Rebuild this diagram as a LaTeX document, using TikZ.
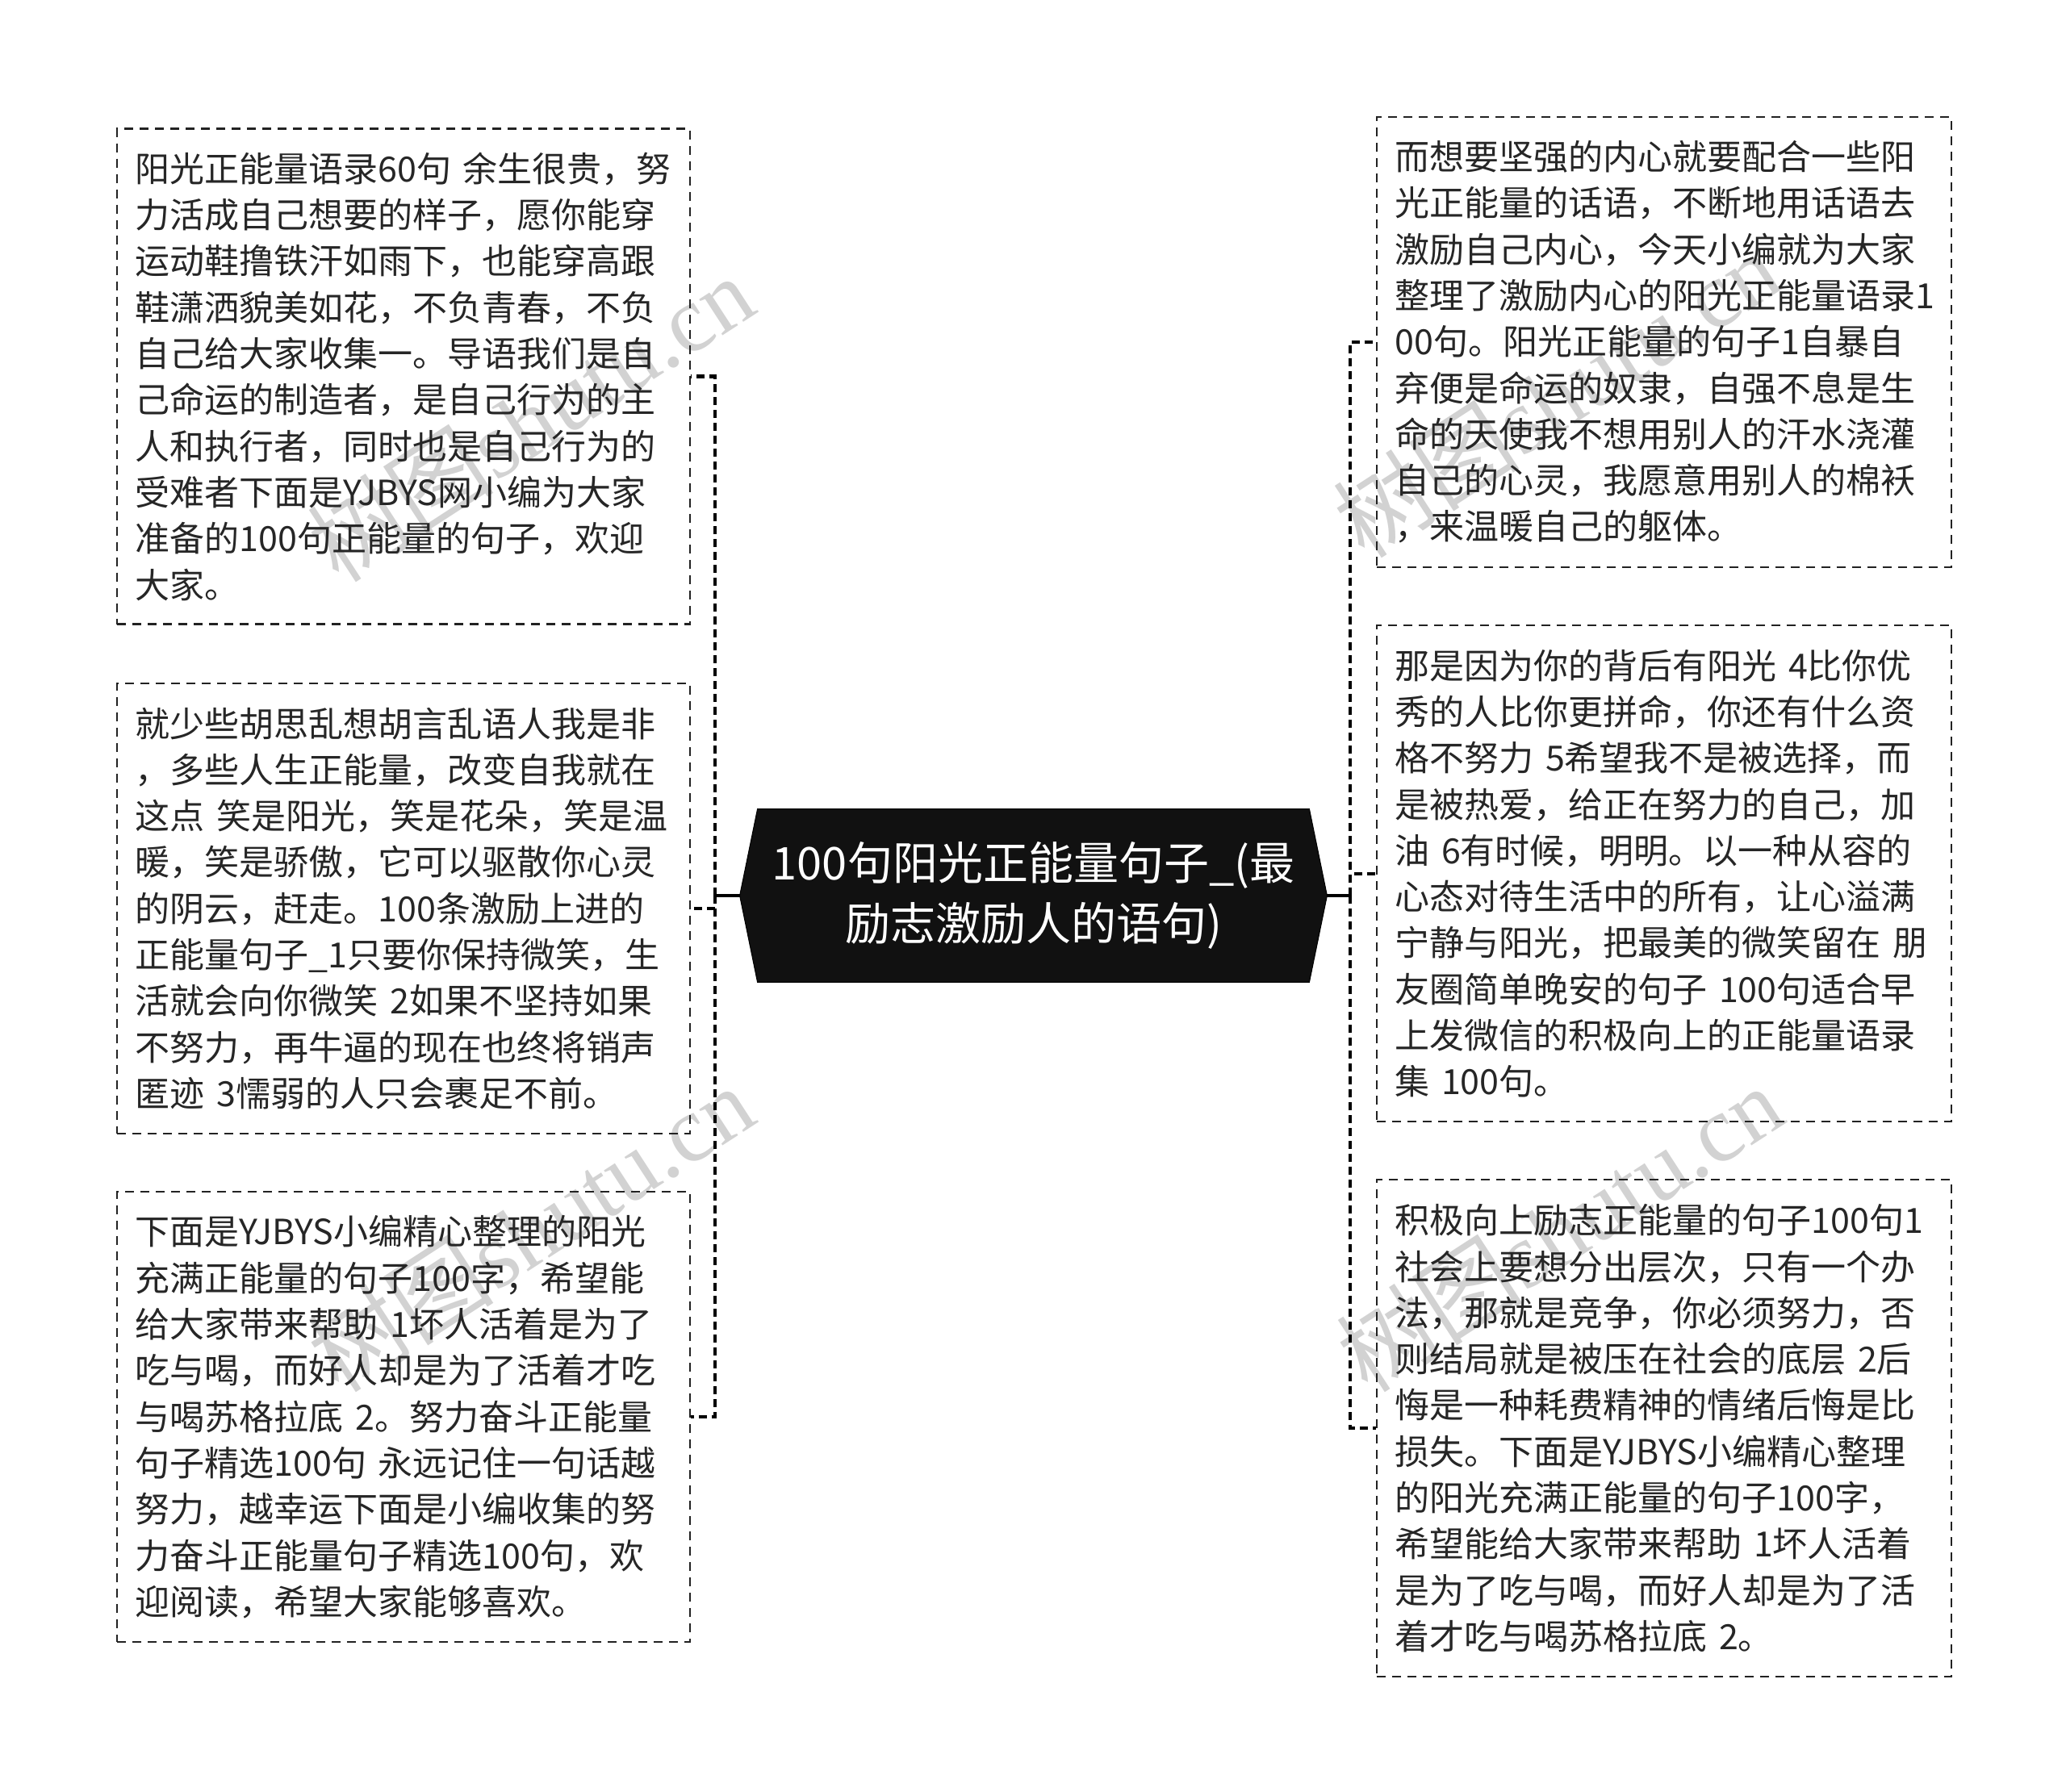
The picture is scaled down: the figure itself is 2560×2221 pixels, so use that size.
\documentclass[tikz,border=0pt]{standalone}
\usepackage{fontspec}
\setmainfont{Noto Sans CJK SC}
\newfontfamily\wmserif{Liberation Serif}
\newfontfamily\wmcjk{Noto Sans CJK SC}
\definecolor{txt}{HTML}{262626}
\definecolor{boxline}{HTML}{222222}
\definecolor{linkc}{HTML}{000000}
\definecolor{rootfill}{HTML}{111111}
\definecolor{wmc}{HTML}{D2D2D2}
\pgfdeclarelayer{bg}
\pgfsetlayers{bg,main}
\tikzset{
  leafbox/.style={draw=boxline, line width=1.2pt, dash pattern=on 5.5pt off 4pt,
    anchor=north west, inner xsep=11.5pt, inner ysep=0pt, align=left, text=txt,
    font=\fontsize{21.5pt}{28.65pt}\selectfont},
  leftbox/.style={leafbox, minimum width=355pt, text width=332pt},
  rightbox/.style={leafbox, minimum width=356pt, text width=333pt},
  rootnode/.style={minimum width=363.5pt, minimum height=107pt, inner sep=0pt,
    align=center, text=white, font=\fontsize{28pt}{37.5pt}\selectfont},
  rootlink/.style={draw=linkc, line width=1.75pt},
  link/.style={draw=linkc, line width=2.2pt, dash pattern=on 5pt off 3pt},
  wm/.style={text=wmc, rotate=33, inner sep=0pt, font=\fontsize{58pt}{58pt}\selectfont}
}
\begin{document}
\begin{tikzpicture}[x=0.5pt,y=-0.5pt]
\useasboundingbox (0,0) rectangle (2560,2221);

% watermarks
\node[wm] (wm1) at (657,518) {{\wmcjk 树图}{\wmserif shutu.cn}};
\node[wm] (wm2) at (1928,488) {{\wmcjk 树图}{\wmserif shutu.cn}};
\node[wm] (wm3) at (657,1522) {{\wmcjk 树图}{\wmserif shutu.cn}};
\node[wm] (wm4) at (1932,1522) {{\wmcjk 树图}{\wmserif shutu.cn}};

% root
\node[rootnode] (root) at (1280.5,1110) {100句阳光正能量句子\_(最\\励志激励人的语句)};
\begin{pgfonlayer}{bg}
\filldraw[fill=rootfill, draw=black, line width=0.5pt]
  (root.west) -- ([xshift=11pt]root.north west) -- ([xshift=-11pt]root.north east)
  -- (root.east) -- ([xshift=-11pt]root.south east) -- ([xshift=11pt]root.south west) -- cycle;
\end{pgfonlayer}

% left boxes
\node[leftbox, minimum height=307pt] (L1) at (143.7,158.4) {阳光正能量语录60句~余生很贵，努\\力活成自己想要的样子，愿你能穿\\运动鞋撸铁汗如雨下，也能穿高跟\\鞋潇洒貌美如花，不负青春，不负\\自己给大家收集一。导语我们是自\\己命运的制造者，是自己行为的主\\人和执行者，同时也是自己行为的\\受难者下面是YJBYS网小编为大家\\准备的100句正能量的句子，欢迎\\大家。};
\node[leftbox, minimum height=279pt] (L2) at (143.7,845.7) {就少些胡思乱想胡言乱语人我是非\\，多些人生正能量，改变自我就在\\这点~笑是阳光，笑是花朵，笑是温\\暖，笑是骄傲，它可以驱散你心灵\\的阴云，赶走。100条激励上进的\\正能量句子\_1只要你保持微笑，生\\活就会向你微笑~2如果不坚持如果\\不努力，再牛逼的现在也终将销声\\匿迹~3懦弱的人只会裹足不前。};
\node[leftbox, minimum height=279pt] (L3) at (143.7,1476) {下面是YJBYS小编精心整理的阳光\\充满正能量的句子100字，希望能\\给大家带来帮助~1坏人活着是为了\\吃与喝，而好人却是为了活着才吃\\与喝苏格拉底~2。努力奋斗正能量\\句子精选100句~永远记住一句话越\\努力，越幸运下面是小编收集的努\\力奋斗正能量句子精选100句，欢\\迎阅读，希望大家能够喜欢。};

% right boxes
\node[rightbox, minimum height=279pt] (R1) at (1704.5,143.7) {而想要坚强的内心就要配合一些阳\\光正能量的话语，不断地用话语去\\激励自己内心，今天小编就为大家\\整理了激励内心的阳光正能量语录1\\00句。阳光正能量的句子1自暴自\\弃便是命运的奴隶，自强不息是生\\命的天使我不想用别人的汗水浇灌\\自己的心灵，我愿意用别人的棉袄\\，来温暖自己的躯体。};
\node[rightbox, minimum height=307.5pt] (R2) at (1704.5,774) {那是因为你的背后有阳光~4比你优\\秀的人比你更拼命，你还有什么资\\格不努力~5希望我不是被选择，而\\是被热爱，给正在努力的自己，加\\油~6有时候，明明。以一种从容的\\心态对待生活中的所有，让心溢满\\宁静与阳光，把最美的微笑留在~朋\\友圈简单晚安的句子~100句适合早\\上发微信的积极向上的正能量语录\\集~100句。};
\node[rightbox, minimum height=308pt] (R3) at (1704.5,1461) {积极向上励志正能量的句子100句1\\社会上要想分出层次，只有一个办\\法，那就是竞争，你必须努力，否\\则结局就是被压在社会的底层~2后\\悔是一种耗费精神的情绪后悔是比\\损失。下面是YJBYS小编精心整理\\的阳光充满正能量的句子100字，\\希望能给大家带来帮助~1坏人活着\\是为了吃与喝，而好人却是为了活\\着才吃与喝苏格拉底~2。};

% connectors
\coordinate (lj) at (886,1110);
\coordinate (rj) at (1673,1110);
\draw[rootlink] (root.west) -- (lj);
\draw[rootlink] (root.east) -- (rj);
\draw[link] (lj) |- (L1.east);
\draw[link] (lj) |- (L2.east);
\draw[link] (lj) |- (L3.east);
\draw[link] (rj) |- (R1.west);
\draw[link] (rj) |- (R2.west);
\draw[link] (rj) |- (R3.west);
\end{tikzpicture}
\end{document}
